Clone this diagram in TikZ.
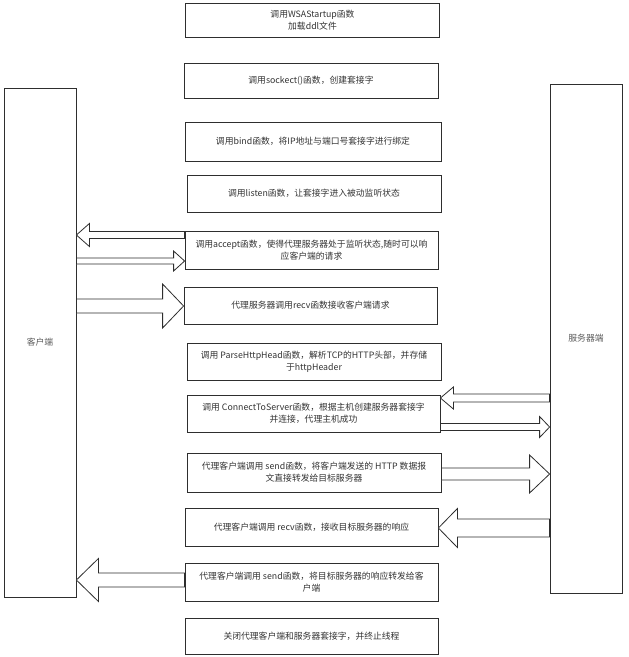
\documentclass[tikz,border=0pt]{standalone}
\usepackage{fontspec}
\newfontfamily\cjk{Noto Sans CJK SC}
\usetikzlibrary{calc}
\definecolor{linegray}{HTML}{2E2E2E}
\definecolor{textgray}{HTML}{333333}
\definecolor{labelgray}{HTML}{5A5A5A}
% hollow block arrow: from, to, y, shaft half width, head half width, head length
\newcommand\fatarrow[6]{%
  \draw[fat] let \p1=(#1), \p2=(#2), \p3=(0,#3), \n1={sign(\x2-\x1)} in
    (\x1,\y3+#4pt) -- (\x2-\n1*#6pt,\y3+#4pt) -- (\x2-\n1*#6pt,\y3+#5pt) -- (\x2,\y3)
    -- (\x2-\n1*#6pt,\y3-#5pt) -- (\x2-\n1*#6pt,\y3-#4pt) -- (\x1,\y3-#4pt) -- cycle;}
\begin{document}
\begin{tikzpicture}
[x=1pt,y=-1pt,font=\cjk\fontsize{8.8}{12}\selectfont,text=textgray,
 stepbox/.style={draw=linegray,line width=0.8pt,align=center,inner sep=0pt,
   minimum width=254pt,minimum height=37pt},
 side/.style={draw=linegray,line width=0.8pt,inner sep=0pt,text=labelgray,
   minimum width=72pt,minimum height=509pt},
 fat/.style={draw=linegray,fill=white,line width=0.8pt,line join=miter}]
\useasboundingbox (0,0) rectangle (629,657);
\node[side] (client) at (40,342.5) {客户端};
\node[side] (server) at (586,338.5) {服务器端};
\node[stepbox,minimum height=34pt] (start) at (312.5,20) {调用WSAStartup函数\\加载ddl文件};
\node[stepbox,minimum height=35pt] (sock) at (311,80.5) {调用sockect()函数，创建套接字};
\node[stepbox,minimum height=39pt,minimum width=256pt] (bind) at (313,141.5) {调用bind函数，将IP地址与端口号套接字进行绑定};
\node[stepbox] (listen) at (314,193.5) {调用listen函数，让套接字进入被动监听状态};
\node[stepbox,minimum height=38pt,minimum width=253pt] (accept) at (311.5,250) {调用accept函数，使得代理服务器处于监听状态,随时可以响\\应客户端的请求};
\node[stepbox,minimum width=253pt] (recv) at (310.5,305.5) {代理服务器调用recv函数接收客户端请求};
\node[stepbox] (parse) at (314,361.5) {调用 ParseHttpHead函数，解析TCP的HTTP头部，并存储\\于httpHeader};
\node[stepbox,minimum width=253pt] (conn) at (313.5,413.5) {调用 ConnectToServer函数，根据主机创建服务器套接字\\并连接，代理主机成功};
\node[stepbox,minimum height=39pt] (send) at (314,472.5) {代理客户端调用 send函数，将客户端发送的 HTTP 数据报\\文直接转发给目标服务器};
\node[stepbox,minimum height=38pt,minimum width=253pt] (recvsrv) at (311.5,527) {代理客户端调用 recv函数，接收目标服务器的响应};
\node[stepbox,minimum height=38pt,minimum width=253pt] (sendcli) at (311.5,582) {代理客户端调用 send函数，将目标服务器的响应转发给客\\户端};
\node[stepbox,minimum height=36pt,minimum width=253pt] (close) at (311.5,636) {关闭代理客户端和服务器套接字，并终止线程};
\fatarrow{accept.west}{client.east}{235}{3.5}{11.5}{13}
\fatarrow{client.east}{accept.west}{261}{3}{10}{11}
\fatarrow{client.east}{recv.west}{306}{7}{22}{21}
\fatarrow{server.west}{conn.east}{398}{4}{11}{13}
\fatarrow{conn.east}{server.west}{427}{3.5}{10.5}{10}
\fatarrow{send.east}{server.west}{474}{6}{19}{20}
\fatarrow{server.west}{recvsrv.east}{528}{9}{19.5}{19}
\fatarrow{sendcli.west}{client.east}{580}{7}{21.5}{22}
\end{tikzpicture}
\end{document}
